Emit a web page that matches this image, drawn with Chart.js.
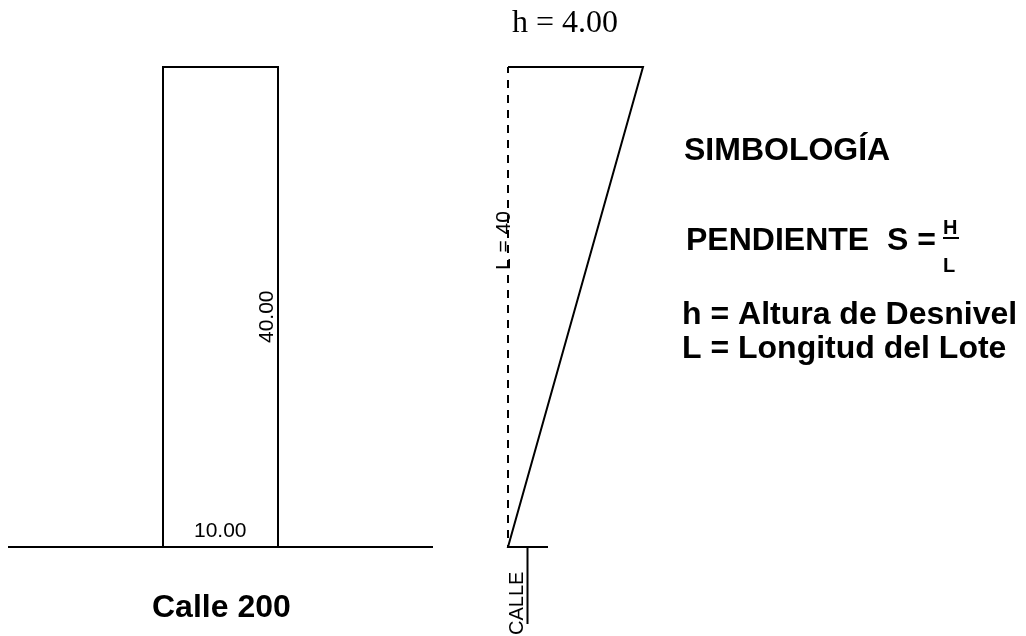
<!DOCTYPE html>
<html>
<head>
<meta charset="utf-8">
<style>
  html, body { margin: 0; padding: 0; background: #fff; }
  canvas { display: block; }
</style>
<script src="https://cdn.jsdelivr.net/npm/chart.js@4.4.7/dist/chart.umd.min.js"></script>
</head>
<body>
<canvas id="chart" width="1026" height="636"></canvas>
<script>
// Sheet axes run in picture units, y downwards
const lotX = [163, 163, 278, 278];
const lotY = [547, 67, 67, 547];
const streetX = [8, 433];
const streetY = [547, 547];
const wedgeX = [508, 643, 508, 548];
const wedgeY = [67, 67, 547, 547];
const slopeRefX = [508, 508];
const slopeRefY = [67, 547];
const streetMarkX = [527.5, 527.5];
const streetMarkY = [547, 624];
const fractionX = [943, 959];
const fractionY = [238, 238];

const labelTexts = ['h = 4.00', '40.00', '10.00', 'Calle 200', 'L = 40', 'CALLE', 'SIMBOLOGÍA', 'PENDIENTE  S =', 'H', 'L', 'h = Altura de Desnivel', 'L = Longitud del Lote'];
const labelX = [512, 273, 194, 152, 510, 523, 684, 686, 943, 943, 682, 682];
const labelY = [32, 343, 537, 617, 270, 635, 160, 250, 234, 272, 324, 358];

const ARIAL = '"Liberation Sans", Arial, sans-serif';
const labelStyles = [
  { font: '32px "Liberation Serif", serif' },
  { font: '21px ' + ARIAL, rotate: true },
  { font: '21px ' + ARIAL },
  { font: 'bold 32px ' + ARIAL },
  { font: '21px ' + ARIAL, rotate: true },
  { font: '20px ' + ARIAL, rotate: true },
  { font: 'bold 32px ' + ARIAL },
  { font: 'bold 32px ' + ARIAL },
  { font: 'bold 20px ' + ARIAL },
  { font: 'bold 20px ' + ARIAL },
  { font: 'bold 32px ' + ARIAL },
  { font: 'bold 32px ' + ARIAL },
];

function toPoints(xs, ys) {
  return xs.map((x, i) => ({ x, y: ys[i] }));
}

function lineSet(xs, ys, extra) {
  return Object.assign({
    data: toPoints(xs, ys),
    showLine: true,
    borderColor: '#000',
    borderWidth: 2,
    pointRadius: 0,
    tension: 0,
    fill: false,
    clip: false,
  }, extra);
}

const sheetLabels = {
  id: 'sheetLabels',
  afterDatasetsDraw(chart) {
    const { ctx, scales } = chart;
    labelTexts.forEach((text, i) => {
      const style = labelStyles[i];
      ctx.save();
      ctx.translate(scales.x.getPixelForValue(labelX[i]), scales.y.getPixelForValue(labelY[i]));
      if (style.rotate) ctx.rotate(-Math.PI / 2);
      ctx.font = style.font;
      ctx.fillStyle = '#000';
      ctx.textAlign = 'left';
      ctx.textBaseline = 'alphabetic';
      ctx.fillText(text, 0, 0);
      ctx.restore();
    });
  },
};

new Chart(document.getElementById('chart'), {
  type: 'scatter',
  data: {
    datasets: [
      lineSet(lotX, lotY),
      lineSet(streetX, streetY),
      lineSet(wedgeX, wedgeY),
      lineSet(slopeRefX, slopeRefY, { borderDash: [8, 7], borderDashOffset: 2 }),
      lineSet(streetMarkX, streetMarkY),
      lineSet(fractionX, fractionY),
    ],
  },
  options: {
    responsive: false,
    animation: false,
    layout: { padding: 0 },
    plugins: { legend: { display: false }, tooltip: { enabled: false } },
    scales: {
      x: { type: 'linear', display: false, min: 0, max: 1026 },
      y: { type: 'linear', display: false, min: 0, max: 636, reverse: true },
    },
  },
  plugins: [sheetLabels],
});
</script>
</body>
</html>
